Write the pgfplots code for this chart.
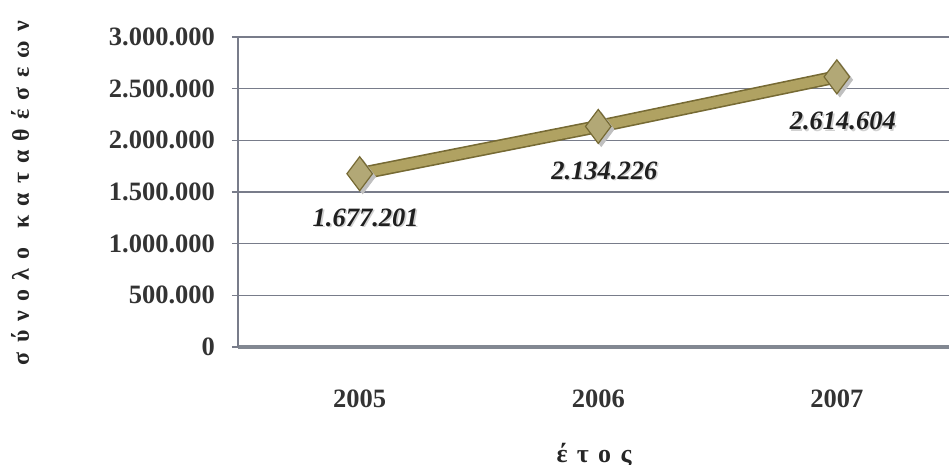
\documentclass[border=0pt]{standalone}
\usepackage{pgfplots}
\pgfplotsset{compat=1.18}
\usepackage{fontspec}
\setmainfont{Liberation Serif}

\definecolor{olivefill}{RGB}{176,162,98}
\definecolor{oliveedge}{RGB}{118,106,52}
\definecolor{markfill}{RGB}{178,168,118}
\definecolor{gridcol}{RGB}{120,124,138}
\definecolor{basecol}{RGB}{130,136,146}

\begin{document}
\begin{tikzpicture}
    \path[use as bounding box] (-119bp,-59bp) rectangle (355.5bp,173.5bp);
    \begin{axis}[
        at={(0,0)}, anchor=south west,
        scale only axis,
        width=355.5bp,
        height=155bp,
        xmin=-0.51, xmax=2.47,
        ymin=0, ymax=3000000,
        scaled y ticks=false,
        axis x line*=bottom,
        axis y line*=left,
        x axis line style={-, draw=basecol, line width=2.2bp},
        y axis line style={-, draw=gridcol, line width=0.8bp},
        xtick={0,1,2},
        xticklabels={2005,2006,2007},
        major x tick style={draw=none},
        extra x ticks={0.5,1.5},
        extra x tick labels={},
        extra x tick style={major tick length=3bp, tick style={draw=gridcol}},
        ytick={0,500000,1000000,1500000,2000000,2500000,3000000},
        yticklabels={0,500.000,1.000.000,1.500.000,2.000.000,2.500.000,3.000.000},
        tick align=outside,
        major tick length=3bp,
        tick style={draw=gridcol, line width=0.8bp},
        ymajorgrids,
        grid style={draw=gridcol, line width=0.8bp},
        ticklabel style={font=\bfseries\fontsize{13.3}{15}\selectfont, text=black!80},
        yticklabel style={anchor=east, xshift=-5bp},
        xticklabel style={yshift=-15bp},
        clip=false,
    ]
        % line with darker edge
        \addplot[draw=oliveedge, line width=6.6bp, line cap=butt] coordinates {
            (0,1677201) (1,2134226) (2,2614604)
        };
        \addplot[draw=olivefill, line width=5bp, line cap=butt] coordinates {
            (0,1677201) (1,2134226) (2,2614604)
        };
        % marker shadow
        \addplot[only marks, mark=diamond*, mark size=8.5bp,
            mark options={fill=black!25, draw=black!25, xshift=1.5bp, yshift=-1.5bp}] coordinates {
            (0,1677201) (1,2134226) (2,2614604)
        };
        \addplot[only marks, mark=diamond*, mark size=8.5bp,
            mark options={fill=markfill, draw=oliveedge, line width=0.6bp}] coordinates {
            (0,1677201) (1,2134226) (2,2614604)
        };
        % data labels (shadow, then text)
        \addplot[draw=none, point meta=explicit symbolic,
            nodes near coords,
            every node near coord/.append style={anchor=north, xshift=3.8bp, yshift=-14.8bp,
                font=\bfseries\itshape\fontsize{13.3}{15}\selectfont, text=black!18}]
            coordinates {(0,1677201) [1.677.201] (1,2134226) [2.134.226] (2,2614604) [2.614.604]};
        \addplot[draw=none, point meta=explicit symbolic,
            nodes near coords,
            every node near coord/.append style={anchor=north, xshift=3bp, yshift=-14bp,
                font=\bfseries\itshape\fontsize{13.3}{15}\selectfont, text=black!88}]
            coordinates {(0,1677201) [1.677.201] (1,2134226) [2.134.226] (2,2614604) [2.614.604]};
    \end{axis}
    \node[rotate=90, font=\bfseries\fontsize{12}{14}\selectfont, text=black!85] at (-109bp,77bp)
        {\hbox to 172bp{σ\hfill ύ\hfill ν\hfill ο\hfill λ\hfill ο\hfill\hfill κ\hfill α\hfill τ\hfill α\hfill θ\hfill έ\hfill σ\hfill ε\hfill ω\hfill ν}};
    \node[font=\bfseries\fontsize{13}{15}\selectfont, text=black!85] at (178bp,-54bp)
        {\hbox to 37.5bp{έ\hfill τ\hfill ο\hfill ς}};
\end{tikzpicture}
\end{document}
